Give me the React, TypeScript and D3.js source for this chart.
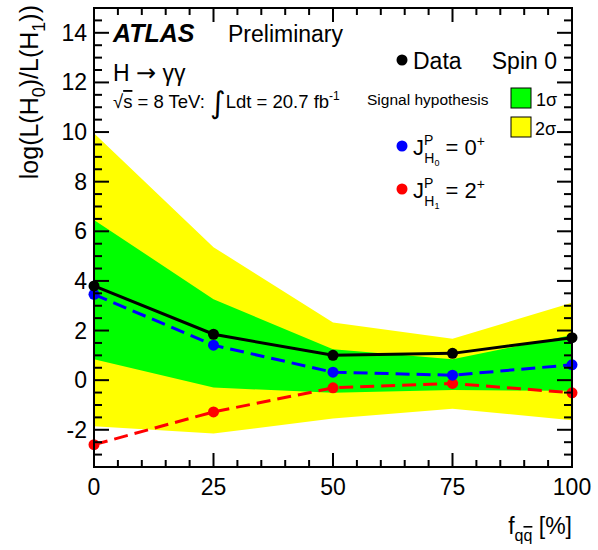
import React from "react";
import * as d3 from "d3";

const W = 598;
const H = 550;
const M = { top: 8, right: 26, bottom: 83, left: 94 };

// f_qqbar values (%)
const fracs = [0, 25, 50, 75, 100];
// observed
const dataVals = [3.8, 1.85, 1.0, 1.08, 1.71];
// expected under J^P = 0+
const spin0Vals = [3.46, 1.41, 0.32, 0.2, 0.62];
// expected under J^P = 2+
const spin2Vals = [-2.6, -1.28, -0.31, -0.13, -0.51];
// bands around the 0+ expectation
const band1Hi = [6.46, 3.26, 1.25, 0.84, 1.82];
const band1Lo = [0.84, -0.3, -0.51, -0.4, -0.43];
const band2Hi = [9.95, 5.36, 2.32, 1.67, 3.12];
const band2Lo = [-1.86, -2.15, -1.55, -1.15, -1.62];

const xTicks = [0, 25, 50, 75, 100];
const yTicks = [-2, 0, 2, 4, 6, 8, 10, 12, 14];

const FONT = "'Liberation Sans', Arial, Helvetica, sans-serif";

export default function App() {
  const x0 = M.left;
  const x1 = W - M.right;
  const y0 = H - M.bottom;
  const y1 = M.top;

  const x = d3.scaleLinear().domain([0, 100]).range([x0, x1]);
  const y = d3.scaleLinear().domain([-3.5, 15]).range([y0, y1]);

  const band = (hi: number[], lo: number[]) =>
    d3
      .area<number>()
      .x((d) => x(d))
      .y0((_, i) => y(lo[i]))
      .y1((_, i) => y(hi[i]))(fracs) || "";

  const line = (vals: number[]) =>
    d3
      .line<number>()
      .x((d) => x(d))
      .y((_, i) => y(vals[i]))(fracs) || "";

  const xMinor = d3.range(0, 100.01, 5).filter((v) => v % 25 !== 0);
  const yMinor = d3.range(-3.5, 15.01, 0.5).filter((v) => v % 2 !== 0);

  const series = [
    { vals: spin2Vals, color: "#ff0000", dash: "14 7" },
    { vals: spin0Vals, color: "#0000ff", dash: "14 7" },
    { vals: dataVals, color: "#000000", dash: undefined },
  ];

  return (
    <svg width={W} height={H} style={{ position: "absolute", left: 0, top: 0, background: "white" }} fontFamily={FONT}>
      <rect width={W} height={H} fill="white" />
      <path d={band(band2Hi, band2Lo)} fill="#ffff00" />
      <path d={band(band1Hi, band1Lo)} fill="#00ff00" />

      {series.map((s, k) => (
        <g key={k}>
          <path d={line(s.vals)} fill="none" stroke={s.color} strokeWidth={3} strokeDasharray={s.dash} />
          {s.vals.map((v, i) => (
            <circle key={i} cx={x(fracs[i])} cy={y(v)} r={5.5} fill={s.color} />
          ))}
        </g>
      ))}

      {/* frame + ticks */}
      <g stroke="black" strokeWidth={2}>
        <rect x={x0} y={y1} width={x1 - x0} height={y0 - y1} fill="none" />
        {xTicks.map((t) => (
          <g key={"xm" + t}>
            <line x1={x(t)} x2={x(t)} y1={y0} y2={y0 - 14} />
            <line x1={x(t)} x2={x(t)} y1={y1} y2={y1 + 14} />
          </g>
        ))}
        {xMinor.map((t) => (
          <g key={"xn" + t}>
            <line x1={x(t)} x2={x(t)} y1={y0} y2={y0 - 7} />
            <line x1={x(t)} x2={x(t)} y1={y1} y2={y1 + 7} />
          </g>
        ))}
        {yTicks.map((t) => (
          <g key={"ym" + t}>
            <line x1={x0} x2={x0 + 15} y1={y(t)} y2={y(t)} />
            <line x1={x1} x2={x1 - 15} y1={y(t)} y2={y(t)} />
          </g>
        ))}
        {yMinor.map((t) => (
          <g key={"yn" + t}>
            <line x1={x0} x2={x0 + 8} y1={y(t)} y2={y(t)} />
            <line x1={x1} x2={x1 - 8} y1={y(t)} y2={y(t)} />
          </g>
        ))}
      </g>

      {/* tick labels */}
      {xTicks.map((t) => (
        <text key={"xl" + t} x={x(t)} y={y0 + 28} fontSize={23} textAnchor="middle">
          {t}
        </text>
      ))}
      {yTicks.map((t) => (
        <text key={"yl" + t} x={x0 - 7} y={y(t) + 8} fontSize={23} textAnchor="end">
          {t}
        </text>
      ))}

      {/* axis titles */}
      <text x={x1} y={534} fontSize={23} textAnchor="end">
        f<tspan fontSize={16} dy={7}>q</tspan>
        <tspan fontSize={16} textDecoration="overline">q</tspan>
        <tspan dy={-7}> [%]</tspan>
      </text>
      <text transform={`translate(38, 5) rotate(-90)`} fontSize={25} textAnchor="end">
        log(L(H<tspan fontSize={18} dy={7}>0</tspan>
        <tspan dy={-7}>)/L(H</tspan>
        <tspan fontSize={18} dy={7}>1</tspan>
        <tspan dy={-7}>))</tspan>
      </text>

      {/* ATLAS labels */}
      <text x={113} y={42} fontSize={25} fontWeight="bold" fontStyle="italic">ATLAS</text>
      <text x={228} y={42} fontSize={23}>Preliminary</text>
      <text x={113} y={81} fontSize={23}>
        H <tspan fontFamily="'DejaVu Sans'" fontSize={24}>→</tspan> γγ
      </text>
      <text x={113} y={108} fontSize={18.5}>
        √<tspan textDecoration="overline">s</tspan> = 8 TeV: <tspan fontSize={30} dy={5} fontFamily="'DejaVu Sans'">∫</tspan>
        <tspan dy={-5}>Ldt = 20.7 fb</tspan>
        <tspan fontSize={12} dy={-8}>-1</tspan>
      </text>

      {/* legend */}
      <circle cx={402} cy={60} r={5.5} fill="black" />
      <text x={413} y={69} fontSize={23}>Data</text>
      <text x={557} y={69} fontSize={23} textAnchor="end">Spin 0</text>
      <text x={367} y={105} fontSize={15.5}>Signal hypothesis</text>
      <rect x={511} y={88} width={20} height={20} fill="#00ff00" stroke="black" strokeWidth={1} />
      <text x={536} y={106} fontSize={18}>1σ</text>
      <rect x={511} y={117} width={20} height={20} fill="#ffff00" stroke="black" strokeWidth={1} />
      <text x={535} y={135} fontSize={18}>2σ</text>

      <circle cx={402} cy={146} r={5.5} fill="#0000ff" />
      <text x={413} y={155} fontSize={22}>
        J<tspan fontSize={14} dy={-10}>P</tspan>
        <tspan fontSize={14} dx={-9} dy={18}>H</tspan>
        <tspan fontSize={9} dy={3}>0</tspan>
        <tspan dy={-11}> = 0</tspan>
        <tspan fontSize={14} dy={-9}>+</tspan>
      </text>
      <circle cx={402} cy={189} r={5.5} fill="#ff0000" />
      <text x={413} y={198} fontSize={22}>
        J<tspan fontSize={14} dy={-10}>P</tspan>
        <tspan fontSize={14} dx={-9} dy={18}>H</tspan>
        <tspan fontSize={9} dy={3}>1</tspan>
        <tspan dy={-11}> = 2</tspan>
        <tspan fontSize={14} dy={-9}>+</tspan>
      </text>
    </svg>
  );
}
